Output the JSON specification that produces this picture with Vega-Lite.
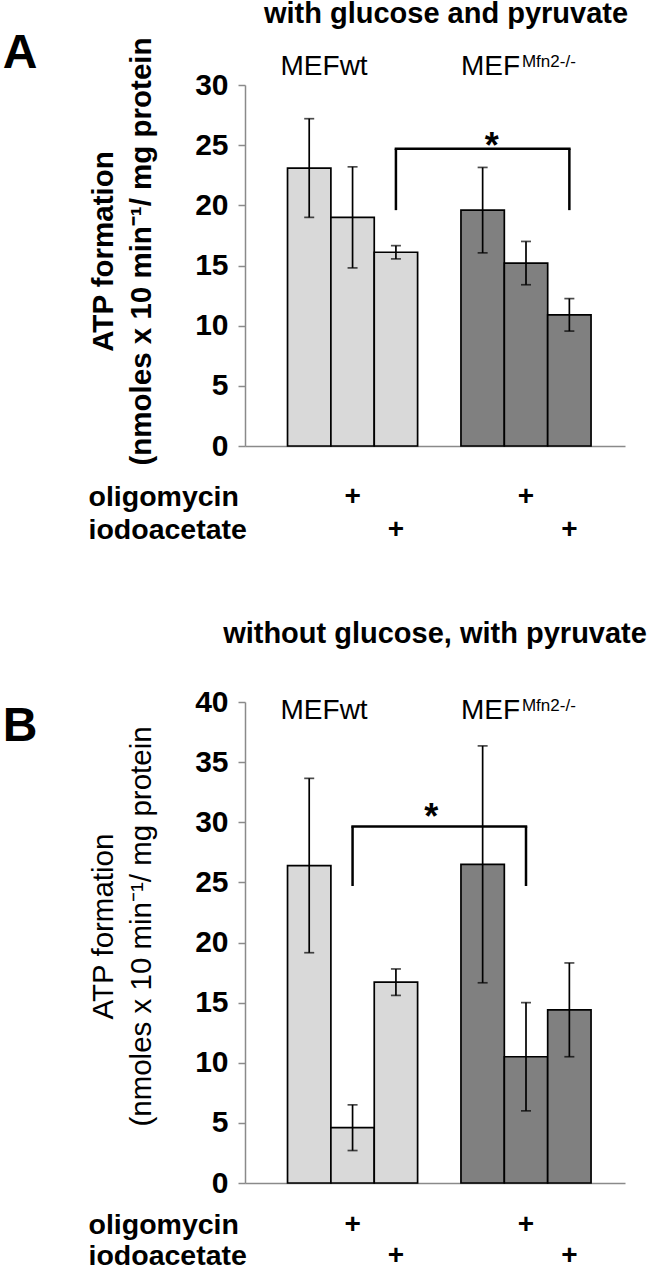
{
  "$schema": "https://vega.github.io/schema/vega-lite/v6.json",
  "padding": 0,
  "background": "white",
  "spacing": 74,
  "datasets": {
    "barsA": [
      {"slot": "wt1", "group": "wt", "mean": 23.1, "err": 4.1},
      {"slot": "wt2", "group": "wt", "mean": 19.0, "err": 4.2},
      {"slot": "wt3", "group": "wt", "mean": 16.1, "err": 0.55},
      {"slot": "ko1", "group": "ko", "mean": 19.6, "err": 3.55},
      {"slot": "ko2", "group": "ko", "mean": 15.2, "err": 1.8},
      {"slot": "ko3", "group": "ko", "mean": 10.9, "err": 1.35}
    ],
    "barsB": [
      {"slot": "wt1", "group": "wt", "mean": 26.4, "err": 7.25},
      {"slot": "wt2", "group": "wt", "mean": 4.6, "err": 1.9},
      {"slot": "wt3", "group": "wt", "mean": 16.7, "err": 1.1},
      {"slot": "ko1", "group": "ko", "mean": 26.5, "err": 9.85},
      {"slot": "ko2", "group": "ko", "mean": 10.5, "err": 4.5},
      {"slot": "ko3", "group": "ko", "mean": 14.4, "err": 3.9}
    ],
    "bracketA": [{"from": "wt3", "to": "ko3", "mid": "ko1", "top": 24.7, "bottom": 19.6}],
    "bracketB": [{"from": "wt2", "to": "ko2", "mid": "gap", "top": 29.65, "bottom": 24.7}],
    "treat": [
      {"slot": "wt2", "treatment": "oligomycin", "sign": "+"},
      {"slot": "wt3", "treatment": "iodoacetate", "sign": "+"},
      {"slot": "ko2", "treatment": "oligomycin", "sign": "+"},
      {"slot": "ko3", "treatment": "iodoacetate", "sign": "+"}
    ]
  },
  "vconcat": [
    {
      "spacing": 48,
      "hconcat": [
        {
          "width": 40, "height": 40,
          "data": {"values": [{"t": "A"}]},
          "mark": {"type": "text", "fontSize": 48, "fontWeight": "bold", "align": "center", "baseline": "middle", "color": "black", "dy": -51},
          "encoding": {"text": {"field": "t"}}
        },
        {
          "spacing": 15,
          "vconcat": [
            {
              "width": 380, "height": 361,
              "title": {"text": "with glucose and pyruvate", "fontSize": 29, "fontWeight": "bold", "color": "black", "anchor": "middle", "frame": "group", "dx": 11, "offset": 8},
              "layer": [
                {
                  "data": {"name": "barsA"},
                  "mark": {"type": "bar", "stroke": "black", "strokeWidth": 1.7},
                  "encoding": {
                    "x": {"field": "slot", "type": "nominal", "scale": {"type": "band", "domain": ["wt1","wt2","wt3","gap","ko1","ko2","ko3"], "paddingInner": 0, "paddingOuter": 0.882, "align": 0.556}, "axis": {"title": null, "labels": false, "ticks": false, "domainColor": "#8a8a8a", "domainWidth": 1.5}},
                    "y": {"field": "mean", "type": "quantitative", "scale": {"domain": [0, 30]}, "title": ["ATP formation", "(nmoles x 10 min⁻¹/ mg protein"],
                      "axis": {"values": [0,5,10,15,20,25,30], "titleFontSize": 29.5, "titleFontWeight": "bold", "titleColor": "black", "titleLineHeight": 38, "titlePadding": 38, "titleY": 166, "tickSize": 7, "tickColor": "#8a8a8a", "tickWidth": 1.5, "domainColor": "#8a8a8a", "domainWidth": 1.5, "labelFontSize": 30, "labelFontWeight": "bold", "labelColor": "black", "labelPadding": 10}},
                    "fill": {"field": "group", "type": "nominal", "scale": {"domain": ["wt","ko"], "range": ["#d9d9d9","#808080"]}, "legend": null}
                  }
                },
                {
                  "data": {"name": "barsA"},
                  "mark": {"type": "errorbar", "ticks": {"size": 10}, "color": "black", "thickness": 1.7},
                  "encoding": {
                    "x": {"field": "slot", "type": "nominal"},
                    "y": {"field": "mean", "type": "quantitative", "title": ["ATP formation", "(nmoles x 10 min⁻¹/ mg protein"]},
                    "yError": {"field": "err"}
                  }
                },
                {
                  "data": {"name": "bracketA"},
                  "mark": {"type": "rule", "color": "black", "strokeWidth": 2.5, "strokeCap": "square"},
                  "encoding": {
                    "x": {"field": "from", "type": "nominal"}, "x2": {"field": "to"},
                    "y": {"field": "top", "type": "quantitative", "title": ["ATP formation", "(nmoles x 10 min⁻¹/ mg protein"]}
                  }
                },
                {
                  "data": {"name": "bracketA"},
                  "mark": {"type": "rule", "color": "black", "strokeWidth": 2.5},
                  "encoding": {
                    "x": {"field": "from", "type": "nominal"},
                    "y": {"field": "top", "type": "quantitative", "title": ["ATP formation", "(nmoles x 10 min⁻¹/ mg protein"]}, "y2": {"field": "bottom"}
                  }
                },
                {
                  "data": {"name": "bracketA"},
                  "mark": {"type": "rule", "color": "black", "strokeWidth": 2.5},
                  "encoding": {
                    "x": {"field": "to", "type": "nominal"},
                    "y": {"field": "top", "type": "quantitative", "title": ["ATP formation", "(nmoles x 10 min⁻¹/ mg protein"]}, "y2": {"field": "bottom"}
                  }
                },
                {
                  "data": {"name": "bracketA"},
                  "mark": {"type": "text", "text": "*", "fontSize": 36, "fontWeight": "bold", "color": "black", "align": "center", "baseline": "alphabetic", "dx": 9, "dy": 9},
                  "encoding": {
                    "x": {"field": "mid", "type": "nominal"},
                    "y": {"field": "top", "type": "quantitative", "title": ["ATP formation", "(nmoles x 10 min⁻¹/ mg protein"]}
                  }
                },
                {
                  "data": {"values": [{"slot": "wt1", "label": "MEFwt"}]},
                  "mark": {"type": "text", "fontSize": 28, "color": "black", "align": "left", "baseline": "alphabetic", "dx": -7, "dy": -10},
                  "encoding": {
                    "x": {"field": "slot", "type": "nominal", "bandPosition": 0},
                    "y": {"datum": 30, "title": ["ATP formation", "(nmoles x 10 min⁻¹/ mg protein"]},
                    "text": {"field": "label"}
                  }
                },
                {
                  "data": {"values": [{"slot": "ko1", "label": "MEF"}]},
                  "mark": {"type": "text", "fontSize": 28, "color": "black", "align": "left", "baseline": "alphabetic", "dx": 0, "dy": -10},
                  "encoding": {
                    "x": {"field": "slot", "type": "nominal", "bandPosition": 0},
                    "y": {"datum": 30, "title": ["ATP formation", "(nmoles x 10 min⁻¹/ mg protein"]},
                    "text": {"field": "label"}
                  }
                },
                {
                  "data": {"values": [{"slot": "ko1", "label": "Mfn2-/-"}]},
                  "mark": {"type": "text", "fontSize": 17, "color": "black", "align": "left", "baseline": "alphabetic", "dx": 61, "dy": -18},
                  "encoding": {
                    "x": {"field": "slot", "type": "nominal", "bandPosition": 0},
                    "y": {"datum": 30, "title": ["ATP formation", "(nmoles x 10 min⁻¹/ mg protein"]},
                    "text": {"field": "label"}
                  }
                }
              ]
            },
            {
              "width": 380, "height": 66,
              "data": {"name": "treat"},
              "mark": {"type": "text", "fontSize": 28, "fontWeight": "bold", "color": "black", "baseline": "middle"},
              "encoding": {
                "x": {"field": "slot", "type": "nominal", "scale": {"type": "band", "domain": ["wt1","wt2","wt3","gap","ko1","ko2","ko3"], "paddingInner": 0, "paddingOuter": 0.882, "align": 0.556}, "axis": null},
                "y": {"field": "treatment", "type": "nominal", "scale": {"type": "band", "domain": ["oligomycin","iodoacetate"], "paddingInner": 0, "paddingOuter": 0},
                  "axis": {"title": null, "domain": false, "ticks": false, "tickSize": 0, "labelAlign": "left", "labelPadding": 157, "labelFontSize": 28.5, "labelFontWeight": "bold", "labelColor": "black", "labelLimit": 0}},
                "text": {"field": "sign"}
              }
            }
          ]
        }
      ]
    },
    {
      "spacing": 48,
      "hconcat": [
        {
          "width": 40, "height": 40,
          "data": {"values": [{"t": "B"}]},
          "mark": {"type": "text", "fontSize": 48, "fontWeight": "bold", "align": "center", "baseline": "middle", "color": "black", "dy": 5},
          "encoding": {"text": {"field": "t"}}
        },
        {
          "spacing": 11,
          "vconcat": [
            {
              "width": 380, "height": 481,
              "title": {"text": "without glucose, with pyruvate", "fontSize": 29, "fontWeight": "bold", "color": "black", "anchor": "middle", "frame": "group", "dx": 0, "offset": 38},
              "layer": [
                {
                  "data": {"name": "barsB"},
                  "mark": {"type": "bar", "stroke": "black", "strokeWidth": 1.7},
                  "encoding": {
                    "x": {"field": "slot", "type": "nominal", "scale": {"type": "band", "domain": ["wt1","wt2","wt3","gap","ko1","ko2","ko3"], "paddingInner": 0, "paddingOuter": 0.882, "align": 0.556}, "axis": {"title": null, "labels": false, "ticks": false, "domainColor": "#8a8a8a", "domainWidth": 1.5}},
                    "y": {"field": "mean", "type": "quantitative", "scale": {"domain": [0, 40]}, "title": ["ATP formation", "(nmoles x 10 min⁻¹/ mg protein"],
                      "axis": {"values": [0,5,10,15,20,25,30,35,40], "titleFontSize": 29.5, "titleFontWeight": "normal", "titleColor": "black", "titleLineHeight": 38, "titlePadding": 38, "titleY": 224, "tickSize": 7, "tickColor": "#8a8a8a", "tickWidth": 1.5, "domainColor": "#8a8a8a", "domainWidth": 1.5, "labelFontSize": 30, "labelFontWeight": "bold", "labelColor": "black", "labelPadding": 10}},
                    "fill": {"field": "group", "type": "nominal", "scale": {"domain": ["wt","ko"], "range": ["#d9d9d9","#808080"]}, "legend": null}
                  }
                },
                {
                  "data": {"name": "barsB"},
                  "mark": {"type": "errorbar", "ticks": {"size": 10}, "color": "black", "thickness": 1.7},
                  "encoding": {
                    "x": {"field": "slot", "type": "nominal"},
                    "y": {"field": "mean", "type": "quantitative", "title": ["ATP formation", "(nmoles x 10 min⁻¹/ mg protein"]},
                    "yError": {"field": "err"}
                  }
                },
                {
                  "data": {"name": "bracketB"},
                  "mark": {"type": "rule", "color": "black", "strokeWidth": 2.5, "strokeCap": "square"},
                  "encoding": {
                    "x": {"field": "from", "type": "nominal"}, "x2": {"field": "to"},
                    "y": {"field": "top", "type": "quantitative", "title": ["ATP formation", "(nmoles x 10 min⁻¹/ mg protein"]}
                  }
                },
                {
                  "data": {"name": "bracketB"},
                  "mark": {"type": "rule", "color": "black", "strokeWidth": 2.5},
                  "encoding": {
                    "x": {"field": "from", "type": "nominal"},
                    "y": {"field": "top", "type": "quantitative", "title": ["ATP formation", "(nmoles x 10 min⁻¹/ mg protein"]}, "y2": {"field": "bottom"}
                  }
                },
                {
                  "data": {"name": "bracketB"},
                  "mark": {"type": "rule", "color": "black", "strokeWidth": 2.5},
                  "encoding": {
                    "x": {"field": "to", "type": "nominal"},
                    "y": {"field": "top", "type": "quantitative", "title": ["ATP formation", "(nmoles x 10 min⁻¹/ mg protein"]}, "y2": {"field": "bottom"}
                  }
                },
                {
                  "data": {"name": "bracketB"},
                  "mark": {"type": "text", "text": "*", "fontSize": 36, "fontWeight": "bold", "color": "black", "align": "center", "baseline": "alphabetic", "dx": -8, "dy": 3},
                  "encoding": {
                    "x": {"field": "mid", "type": "nominal"},
                    "y": {"field": "top", "type": "quantitative", "title": ["ATP formation", "(nmoles x 10 min⁻¹/ mg protein"]}
                  }
                },
                {
                  "data": {"values": [{"slot": "wt1", "label": "MEFwt"}]},
                  "mark": {"type": "text", "fontSize": 28, "color": "black", "align": "left", "baseline": "alphabetic", "dx": -7, "dy": 17},
                  "encoding": {
                    "x": {"field": "slot", "type": "nominal", "bandPosition": 0},
                    "y": {"datum": 40, "title": ["ATP formation", "(nmoles x 10 min⁻¹/ mg protein"]},
                    "text": {"field": "label"}
                  }
                },
                {
                  "data": {"values": [{"slot": "ko1", "label": "MEF"}]},
                  "mark": {"type": "text", "fontSize": 28, "color": "black", "align": "left", "baseline": "alphabetic", "dx": 0, "dy": 17},
                  "encoding": {
                    "x": {"field": "slot", "type": "nominal", "bandPosition": 0},
                    "y": {"datum": 40, "title": ["ATP formation", "(nmoles x 10 min⁻¹/ mg protein"]},
                    "text": {"field": "label"}
                  }
                },
                {
                  "data": {"values": [{"slot": "ko1", "label": "Mfn2-/-"}]},
                  "mark": {"type": "text", "fontSize": 17, "color": "black", "align": "left", "baseline": "alphabetic", "dx": 61, "dy": 9},
                  "encoding": {
                    "x": {"field": "slot", "type": "nominal", "bandPosition": 0},
                    "y": {"datum": 40, "title": ["ATP formation", "(nmoles x 10 min⁻¹/ mg protein"]},
                    "text": {"field": "label"}
                  }
                }
              ]
            },
            {
              "width": 380, "height": 62,
              "data": {"name": "treat"},
              "mark": {"type": "text", "fontSize": 28, "fontWeight": "bold", "color": "black", "baseline": "middle"},
              "encoding": {
                "x": {"field": "slot", "type": "nominal", "scale": {"type": "band", "domain": ["wt1","wt2","wt3","gap","ko1","ko2","ko3"], "paddingInner": 0, "paddingOuter": 0.882, "align": 0.556}, "axis": null},
                "y": {"field": "treatment", "type": "nominal", "scale": {"type": "band", "domain": ["oligomycin","iodoacetate"], "paddingInner": 0, "paddingOuter": 0},
                  "axis": {"title": null, "domain": false, "ticks": false, "tickSize": 0, "labelAlign": "left", "labelPadding": 157, "labelFontSize": 28.5, "labelFontWeight": "bold", "labelColor": "black", "labelLimit": 0}},
                "text": {"field": "sign"}
              }
            }
          ]
        }
      ]
    }
  ],
  "config": {
    "view": {"stroke": null},
    "font": "Liberation Sans",
    "axis": {"grid": false}
  }
}
